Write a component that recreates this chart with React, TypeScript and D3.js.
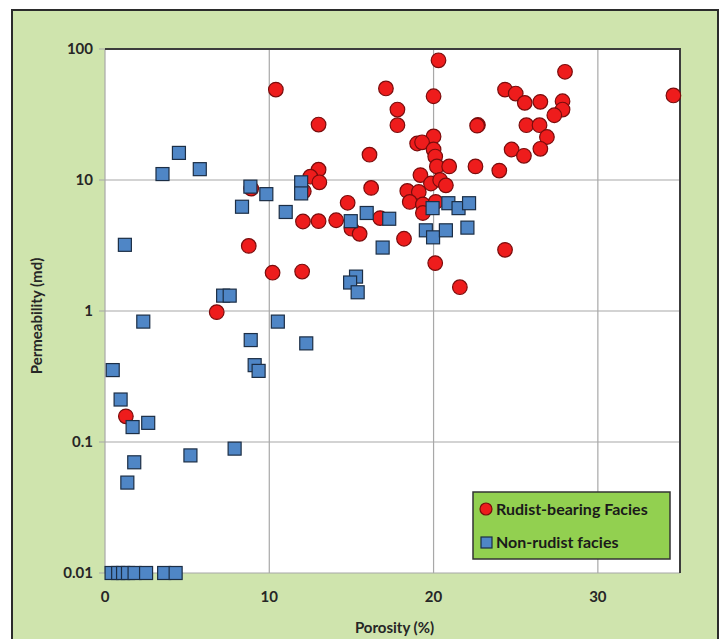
import React, { useRef, useEffect } from 'react';
import * as d3 from 'd3';

// Rudist-bearing facies: porosity (%), permeability (md)
const rudistPorosity = [
  10.4, 17.1, 20.3, 20.0, 17.8, 17.8, 13.0, 22.7, 22.65, 20.0, 19.0, 19.3, 20.0, 20.1, 20.2, 20.95,
  22.55, 24.0, 16.1, 13.0, 12.5, 13.05, 12.1, 19.2, 19.84, 20.4, 20.75, 16.2, 18.4, 19.1,
  18.55, 19.35, 19.35, 20.13, 14.77, 12.05, 13.0, 14.07, 16.75, 15.0, 15.5, 18.2, 8.9,
  8.75, 10.2, 12.0, 20.1, 21.6, 6.8, 1.27, 28.0, 24.35, 25.0, 25.55, 26.5, 27.85, 27.85,
  27.35, 25.65, 26.45, 26.9, 24.75, 25.5, 26.5, 34.6, 24.35
];
const rudistPermeability = [
  49, 50, 82, 43.6, 34.5, 26.2, 26.5, 26.3, 26.0, 21.5, 19.0, 19.4, 17.1, 15.1, 12.7, 12.7,
  12.7, 11.8, 15.6, 12.0, 10.6, 9.6, 8.2, 10.9, 9.4, 10.0, 9.1, 8.7, 8.25, 8.1,
  6.8, 6.5, 5.6, 6.8, 6.7, 4.82, 4.85, 4.93, 5.12, 4.25, 3.88, 3.56, 8.6,
  3.14, 1.96, 2.0, 2.32, 1.52, 0.98, 0.157, 67, 49, 45.7, 38.8, 39.5, 39.9, 34.5,
  31.2, 26.2, 26.2, 21.3, 17.1, 15.3, 17.3, 44.2, 2.93
];

// Non-rudist facies
const nonRudistPorosity = [
  4.5, 3.5, 5.77, 1.21, 8.85, 9.82, 8.34, 11.0, 11.94, 11.94, 7.19, 7.59, 2.33, 10.52,
  8.87, 9.11, 9.35, 12.25, 0.47, 0.95, 1.68, 2.63, 1.78, 1.36, 5.2, 7.89,
  0.4, 0.8, 1.1, 1.4, 1.8, 2.5, 3.6, 4.3,
  15.93, 14.96, 17.3, 16.9, 15.28, 14.92, 15.38, 19.94, 20.9, 21.52, 22.16, 19.53, 19.97,
  20.75, 22.06
];
const nonRudistPermeability = [
  16.1, 11.1, 12.1, 3.2, 8.9, 7.8, 6.25, 5.7, 9.6, 7.9, 1.31, 1.31, 0.83, 0.83,
  0.6, 0.386, 0.349, 0.566, 0.354, 0.211, 0.13, 0.14, 0.07, 0.049, 0.079, 0.089,
  0.01, 0.01, 0.01, 0.01, 0.01, 0.01, 0.01, 0.01,
  5.6, 4.85, 5.06, 3.05, 1.83, 1.65, 1.39, 6.1, 6.65, 6.1, 6.65, 4.13, 3.65,
  4.13, 4.33
];

const xTicks = [0, 10, 20, 30];
const yTicks = [0.01, 0.1, 1, 10, 100];
const seriesNames = ['Rudist-bearing Facies', 'Non-rudist facies'];

const App = () => {
  const svgRef = useRef(null);

  useEffect(() => {
    const width = 723;
    const height = 639;
    const plot = { left: 105, right: 680, top: 49, bottom: 573 };
    const font = 'Lato, "Open Sans", sans-serif';

    const svg = d3.select(svgRef.current)
      .attr('width', width)
      .attr('height', height);

    svg.selectAll('*').remove();

    const x = d3.scaleLinear().domain([0, 35]).range([plot.left, plot.right]);
    const y = d3.scaleLog().domain([0.01, 100]).range([plot.bottom, plot.top]);

    // outer chart frame
    svg.append('rect')
      .attr('x', 12).attr('y', 10)
      .attr('width', 706).attr('height', 640)
      .attr('fill', '#cfe4ad')
      .attr('stroke', '#2b2b2b')
      .attr('stroke-width', 2);

    // plot area
    svg.append('rect')
      .attr('x', plot.left).attr('y', plot.top)
      .attr('width', plot.right - plot.left)
      .attr('height', plot.bottom - plot.top)
      .attr('fill', '#ffffff');

    // gridlines
    svg.append('g')
      .selectAll('line')
      .data(xTicks.slice(1))
      .enter()
      .append('line')
      .attr('x1', d => x(d)).attr('x2', d => x(d))
      .attr('y1', plot.top).attr('y2', plot.bottom)
      .attr('stroke', '#a8a8a8')
      .attr('stroke-width', 1.2);

    svg.append('g')
      .selectAll('line')
      .data(yTicks)
      .enter()
      .append('line')
      .attr('x1', plot.left - 6).attr('x2', plot.right)
      .attr('y1', d => y(d)).attr('y2', d => y(d))
      .attr('stroke', '#a8a8a8')
      .attr('stroke-width', 1.2);

    // y axis line
    svg.append('line')
      .attr('x1', plot.left).attr('x2', plot.left)
      .attr('y1', plot.top).attr('y2', plot.bottom)
      .attr('stroke', '#a8a8a8')
      .attr('stroke-width', 1.2);

    // darker top / right edges of the plot
    svg.append('path')
      .attr('d', `M${plot.left},${plot.top}H${plot.right}V${plot.bottom}`)
      .attr('fill', 'none')
      .attr('stroke', '#3c3c3c')
      .attr('stroke-width', 2);

    // tick labels
    svg.append('g')
      .selectAll('text')
      .data(yTicks)
      .enter()
      .append('text')
      .attr('x', plot.left - 12)
      .attr('y', d => y(d))
      .attr('dy', '0.35em')
      .attr('text-anchor', 'end')
      .style('font-family', font)
      .style('font-size', '15px')
      .style('font-weight', 'bold')
      .attr('fill', '#262626')
      .text(d => d3.format('~g')(d));

    svg.append('g')
      .selectAll('text')
      .data(xTicks)
      .enter()
      .append('text')
      .attr('x', d => x(d))
      .attr('y', plot.bottom + 29)
      .attr('text-anchor', 'middle')
      .style('font-family', font)
      .style('font-size', '15px')
      .style('font-weight', 'bold')
      .attr('fill', '#262626')
      .text(d => d);

    // axis titles
    svg.append('text')
      .attr('x', (plot.left + plot.right) / 2 + 2)
      .attr('y', 633)
      .attr('text-anchor', 'middle')
      .style('font-family', font)
      .style('font-size', '15px')
      .style('font-weight', 'bold')
      .attr('fill', '#262626')
      .text('Porosity (%)');

    svg.append('text')
      .attr('transform', `translate(42,${(plot.top + plot.bottom) / 2 + 5}) rotate(-90)`)
      .attr('text-anchor', 'middle')
      .style('font-family', font)
      .style('font-size', '15px')
      .style('font-weight', 'bold')
      .attr('fill', '#262626')
      .text('Permeability (md)');

    // points
    const rudist = rudistPorosity.map((p, i) => ({ p, k: rudistPermeability[i] }));
    const nonRudist = nonRudistPorosity.map((p, i) => ({ p, k: nonRudistPermeability[i] }));

    svg.append('g')
      .selectAll('circle')
      .data(rudist)
      .enter()
      .append('circle')
      .attr('cx', d => x(d.p))
      .attr('cy', d => y(d.k))
      .attr('r', 7.3)
      .attr('fill', '#ee1c1c')
      .attr('stroke', '#7a0c0c')
      .attr('stroke-width', 1.2);

    const side = 13;
    svg.append('g')
      .selectAll('rect')
      .data(nonRudist)
      .enter()
      .append('rect')
      .attr('x', d => x(d.p) - side / 2)
      .attr('y', d => y(d.k) - side / 2)
      .attr('width', side)
      .attr('height', side)
      .attr('fill', '#4f86c6')
      .attr('stroke', '#1c2e45')
      .attr('stroke-width', 1.2);

    // legend
    const legend = svg.append('g');
    legend.append('rect')
      .attr('x', 473).attr('y', 492)
      .attr('width', 197).attr('height', 67)
      .attr('fill', '#92d050')
      .attr('stroke', '#333333')
      .attr('stroke-width', 1.5);

    legend.append('circle')
      .attr('cx', 486).attr('cy', 509).attr('r', 6)
      .attr('fill', '#ee1c1c')
      .attr('stroke', '#7a0c0c')
      .attr('stroke-width', 1.2);

    legend.append('rect')
      .attr('x', 481).attr('y', 537).attr('width', 11).attr('height', 11)
      .attr('fill', '#4f86c6')
      .attr('stroke', '#1c2e45')
      .attr('stroke-width', 1.2);

    legend.selectAll('text')
      .data(seriesNames)
      .enter()
      .append('text')
      .attr('x', 496)
      .attr('y', (d, i) => 509 + i * 33)
      .attr('dy', '0.35em')
      .style('font-family', font)
      .style('font-size', '16px')
      .style('font-weight', 'bold')
      .attr('fill', '#1a1a1a')
      .text(d => d);
  }, []);

  return <svg ref={svgRef} style={{ position: 'absolute', left: 0, top: 0 }}></svg>;
};

export default App;
